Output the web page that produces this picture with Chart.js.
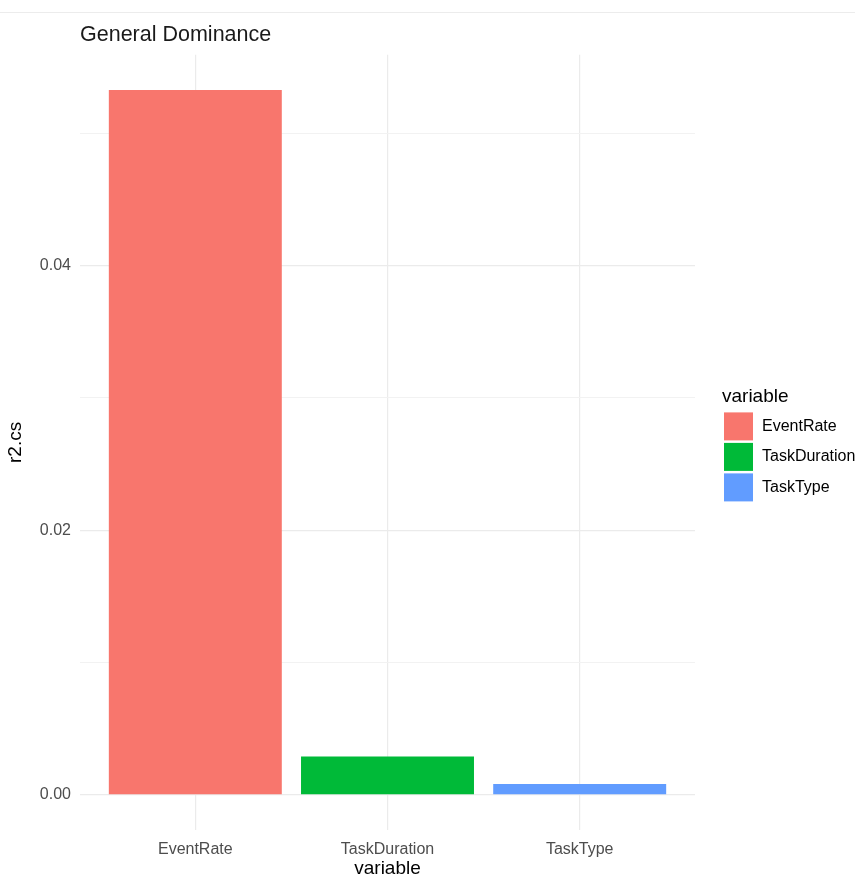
<!DOCTYPE html>
<html>
<head>
<meta charset="utf-8">
<script src="https://cdn.jsdelivr.net/npm/chart.js@4"></script>
<style>
  body { margin: 0; background: #fff; overflow: hidden; }
  #linea { position: absolute; left: 0; top: 0; width: 100%; height: 12px; border-bottom: 1px solid #ececec; }
</style>
</head>
<body>
<div id="linea"></div>
<canvas id="grafica" width="855" height="880"></canvas>
<script>
// Datos
const categorias = ['EventRate', 'TaskDuration', 'TaskType'];
const valores = [0.05326, 0.00289, 0.00081];
const colores = ['#F8766D', '#00BA38', '#619CFF'];
const yTicks = [0, 0.01, 0.02, 0.03, 0.04, 0.05];
const yEtiquetas = ['0.00', '', '0.02', '', '0.04', ''];

const fuente = 'Liberation Sans, Arial, sans-serif';

// Leyenda estilo ggplot, dibujada a la derecha del panel
const leyendaVariable = {
    id: 'leyendaVariable',
    afterDraw(chart) {
        const c = chart.ctx;
        const area = chart.chartArea;
        const x0 = area.right + 29;
        const centro = (area.top + area.bottom) / 2;
        const paso = 30.5;
        const alto = 28;
        const yTitulo = centro - 55;
        c.save();
        c.fillStyle = '#000';
        c.font = '19px ' + fuente;
        c.textBaseline = 'alphabetic';
        c.textAlign = 'left';
        c.fillText('variable', x0 - 2, yTitulo + 15);
        c.font = '16px ' + fuente;
        c.textBaseline = 'middle';
        categorias.forEach((cat, i) => {
            const y = yTitulo + 25 + i * paso;
            c.fillStyle = colores[i];
            c.fillRect(x0, y, 29, alto);
            c.fillStyle = '#000';
            c.fillText(cat, x0 + 38, y + alto / 2);
        });
        c.restore();
    }
};

const ctx = document.getElementById('grafica').getContext('2d');

new Chart(ctx, {
    type: 'bar',
    data: {
        datasets: [{
            data: categorias.map((cat, i) => ({ x: i + 1, y: valores[i] })),
            backgroundColor: colores,
            borderWidth: 0,
            categoryPercentage: 1,
            barPercentage: 0.9
        }]
    },
    options: {
        responsive: false,
        animation: false,
        layout: { padding: { left: 0, right: 160, top: 0, bottom: 0 } },
        plugins: {
            legend: { display: false },
            tooltip: { enabled: false },
            title: {
                display: true,
                text: 'General Dominance',
                align: 'start',
                fullSize: false,
                color: '#1a1a1a',
                font: { family: fuente, size: 21.5, weight: 'normal' },
                padding: { top: 22, bottom: 7 }
            }
        },
        scales: {
            x: {
                type: 'linear',
                min: 0.4,
                max: 3.6,
                offset: false,
                afterBuildTicks: axis => { axis.ticks = categorias.map((c, i) => ({ value: i + 1 })); },
                afterFit: scale => { scale.height = 50; },
                ticks: {
                    autoSkip: false,
                    padding: 10,
                    color: '#4d4d4d',
                    font: { family: fuente, size: 16 },
                    callback: v => categorias[v - 1]
                },
                grid: { color: '#ebebeb', lineWidth: 1.2, drawTicks: false, offset: false },
                border: { display: false },
                title: {
                    display: true,
                    text: 'variable',
                    color: '#000',
                    font: { family: fuente, size: 19 },
                    padding: { top: 0, bottom: 0 }
                }
            },
            y: {
                min: -0.00266,
                max: 0.05592,
                afterBuildTicks: axis => { axis.ticks = yTicks.map(v => ({ value: v })); },
                afterFit: scale => { scale.width = 80; },
                ticks: {
                    autoSkip: false,
                    padding: 9,
                    color: '#4d4d4d',
                    font: { family: fuente, size: 16 },
                    callback: (v, i) => yEtiquetas[i]
                },
                grid: {
                    drawTicks: false,
                    color: c => (yEtiquetas[c.index] ? '#ebebeb' : '#f2f2f2'),
                    lineWidth: c => (yEtiquetas[c.index] ? 1.2 : 1)
                },
                border: { display: false },
                title: {
                    display: true,
                    text: 'r2.cs',
                    color: '#000',
                    font: { family: fuente, size: 19 },
                    padding: { top: 4, bottom: 0 }
                }
            }
        }
    },
    plugins: [leyendaVariable]
});
</script>
</body>
</html>
